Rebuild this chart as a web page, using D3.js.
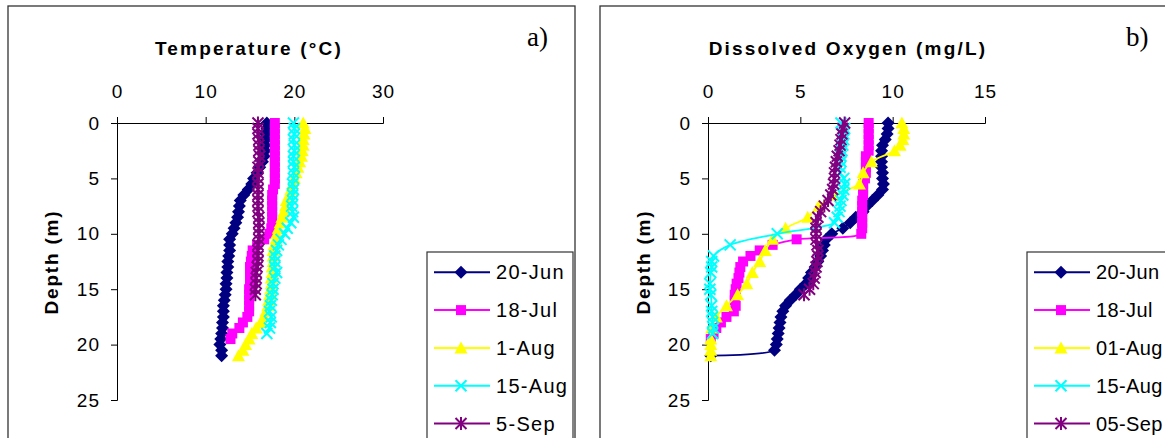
<!DOCTYPE html>
<html>
<head>
<meta charset="utf-8">
<script src="https://cdn.jsdelivr.net/npm/d3@7"></script>
<style>
  html, body { margin: 0; padding: 0; background: #fff; }
  svg { display: block; }
  text { font-family: "Liberation Sans", Arial, sans-serif; }
</style>
</head>
<body>
<div class="chart"></div>
<script>
// depth of each reading (m)
const depths = [0, 0.5, 1, 1.5, 2, 2.5, 3, 3.5, 4, 4.5, 5, 5.5, 6, 6.5, 7, 7.5, 8, 8.5, 9, 9.5,
  10, 10.5, 11, 11.5, 12, 12.5, 13, 13.5, 14, 14.5, 15, 15.5, 16, 16.5, 17, 17.5, 18, 18.5, 19, 19.5,
  20, 20.5, 21];

// a) temperature (°C)
const tempJun20 = [16.9, 16.9, 16.8, 16.8, 16.7, 16.7, 16.6, 16.4, 16.1, 15.8,
  15.4, 15.2, 14.8, 14.3, 13.9, 13.8, 13.7, 13.6, 13.4, 13.2,
  13.0, 12.7, 12.7, 12.7, 12.6, 12.5, 12.5, 12.4, 12.4, 12.3,
  12.3, 12.2, 12.1, 12.0, 12.0, 12.0, 11.9, 11.9, 11.8, 11.7,
  11.6, 11.8, 11.8];
const tempJul18 = [17.8, 17.8, 17.8, 17.8, 17.8, 17.8, 17.8, 17.8, 17.8, 17.8,
  17.8, 17.8, 17.6, 17.5, 17.5, 17.5, 17.5, 17.5, 17.5, 17.4,
  17.2, 16.6, 15.8, 15.3, 15.2, 15.1, 15.0, 15.0, 15.0, 15.0,
  14.9, 14.9, 14.9, 14.9, 14.9, 14.7, 14.2, 13.8, 13.0, 12.8,
  null, null, null];
const tempAug1 = [21.0, 21.2, 21.1, 21.0, 21.0, 20.9, 20.8, 20.6, 20.4, 20.2,
  20.0, 19.8, 19.6, 19.4, 19.1, 19.0, 18.8, 18.6, 18.4, 18.2,
  18.0, 17.9, 17.7, 17.6, 17.6, 17.6, 17.5, 17.5, 17.4, 17.4,
  17.3, 17.2, 17.1, 17.0, 16.8, 16.6, 16.2, 15.7, 15.2, 14.9,
  14.5, 14.2, 13.7];
const tempAug15 = [19.9, 20.0, 20.0, 19.9, 20.0, 20.0, 19.9, 19.9, 20.0, 19.9,
  19.9, 19.8, 19.9, 19.8, 19.8, 19.7, 19.8, 19.9, 19.6, 19.2,
  18.9, 18.5, 18.2, 18.0, 17.8, 17.8, 17.8, 18.0, 17.8, 17.6,
  17.6, 17.5, 17.4, 17.3, 17.2, 17.4, 17.3, 17.2, 16.9, null,
  null, null, null];
const tempSep5 = [15.9, 15.9, 15.9, 16.0, 16.0, 16.0, 16.1, 16.0, 15.9, 15.9,
  15.9, 15.9, 15.9, 15.9, 15.9, 15.9, 15.9, 16.0, 16.0, 16.0,
  16.0, 16.0, 15.9, 15.9, 15.9, 15.9, 15.8, 15.7, 15.7, 15.7,
  15.6, 15.6, null, null, null, null, null, null, null, null,
  null, null, null];

// b) dissolved oxygen (mg/L)
const oxyJun20 = [9.75, 9.75, 9.7, 9.6, 9.45, 9.4, 9.4, 9.4, 9.4, 9.45,
  9.45, 9.5, 9.45, 9.2, 8.9, 8.6, 8.4, 8.0, 7.7, 7.3,
  6.7, 6.4, 6.3, 6.2, 6.1, 5.95, 5.8, 5.6, 5.45, 5.3,
  5.0, 4.75, 4.45, 4.2, 4.05, 3.95, 3.9, 3.85, 3.8, 3.75,
  3.7, 3.6, 0.15];
const oxyJul18 = [8.7, 8.7, 8.7, 8.7, 8.7, 8.7, 8.55, 8.55, 8.55, 8.55,
  8.5, 8.4, 8.4, 8.4, 8.35, 8.35, 8.35, 8.35, 8.35, 8.35,
  8.3, 4.8, 3.5, 2.8, 2.3, 1.9, 1.75, 1.7, 1.65, 1.55,
  1.5, 1.45, 1.45, 1.5, 1.4, 1.0, 0.7, 0.45, 0.3, 0.15,
  null, null, null];
const oxyAug1 = [10.5, 10.6, 10.6, 10.55, 10.4, 10.1, null, 8.85, null, 8.4,
  null, 8.2, null, 6.8, null, 6.0, null, 5.4, null, 4.2,
  null, 3.5, null, 3.1, null, 2.8, null, 2.4, null, 2.1,
  null, 1.6, null, 1.0, null, 0.45, null, 0.2, null, 0.15,
  0.15, 0.15, 0.15];
const oxyAug15 = [7.2, 7.4, 7.35, 7.35, 7.3, 7.25, 7.2, 7.2, 7.15, 7.15,
  7.35, 7.4, 7.35, 7.3, 7.2, 7.15, 7.1, 7.0, 6.85, null,
  3.75, null, 1.2, null, 0.3, 0.2, 0.2, 0.15, null, 0.1,
  0.1, 0.15, null, 0.2, 0.2, 0.25, 0.25, 0.3, 0.25, null,
  null, null, null];
const oxySep5 = [7.4, 7.3, 7.25, 7.2, 7.15, 7.1, 7.0, 6.95, 6.9, 6.85,
  6.85, 6.8, 6.75, 6.65, 6.5, 6.3, 6.1, 5.95, 5.85, 5.85,
  5.85, 5.85, 5.9, 5.95, 5.95, 5.9, 5.85, 5.8, 5.75, 5.7,
  5.5, 5.2, null, null, null, null, null, null, null, null,
  null, null, null];

const namesA = ['20-Jun', '18-Jul', '1-Aug', '15-Aug', '5-Sep'];
const namesB = ['20-Jun', '18-Jul', '01-Aug', '15-Aug', '05-Sep'];
const tempTicks = [0, 10, 20, 30];
const oxyTicks = [0, 5, 10, 15];
const depthTicks = [0, 5, 10, 15, 20, 25];

const colors = ['#000080', '#ff00ff', '#ffff00', '#00ffff', '#800080'];
const markers = ['diamond', 'square', 'triangle', 'cross', 'star'];

const panels = [
  { tag: 'a)', title: 'Temperature (°C)', xMax: 30, ticks: tempTicks, series: [tempJun20, tempJul18, tempAug1, tempAug15, tempSep5], names: namesA,
    frame: { x: 8, w: 567 }, x0: 117, x1: 383, titleX: 249, yLabelX: 51, tagX: 527, legend: { x: 427, w: 146, spacing: 1.3 } },
  { tag: 'b)', title: 'Dissolved Oxygen (mg/L)', xMax: 15, ticks: oxyTicks, series: [oxyJun20, oxyJul18, oxyAug1, oxyAug15, oxySep5], names: namesB,
    frame: { x: 600, w: 580 }, x0: 708, x1: 985, titleX: 848, yLabelX: 643, tagX: 1126, legend: { x: 1027, w: 170, spacing: 0.4 } }
];

// marker shapes, Excel style
function markerPath(type) {
  switch (type) {
    case 'diamond': return 'M0,-6.5L6.5,0L0,6.5L-6.5,0Z';
    case 'square': return 'M-5,-5H5V5H-5Z';
    case 'triangle': return 'M0,-6.5L6.5,5.5L-6.5,5.5Z';
    case 'cross': return 'M-5.5,-5.5L5.5,5.5M-5.5,5.5L5.5,-5.5';
    case 'star': return 'M-5.5,-5.5L5.5,5.5M-5.5,5.5L5.5,-5.5M0,-6.5V6.5';
  }
}

function drawMarker(g, type, color) {
  const stroked = type === 'cross' || type === 'star';
  return g.append('path')
    .attr('d', markerPath(type))
    .attr('fill', stroked ? 'none' : color)
    .attr('stroke', stroked ? color : 'none')
    .attr('stroke-width', 2);
}

const svg = d3.select('.chart').append('svg')
  .attr('width', 1165)
  .attr('height', 438);

const yScale = d3.scaleLinear().domain([0, 25]).range([123, 400]);

panels.forEach(function (p) {
  const g = svg.append('g');
  // panel frame
  g.append('rect')
    .attr('x', p.frame.x).attr('y', 6)
    .attr('width', p.frame.w).attr('height', 460)
    .attr('fill', 'none').attr('stroke', '#333').attr('stroke-width', 1.3);

  const xScale = d3.scaleLinear().domain([0, p.xMax]).range([p.x0, p.x1]);

  // axes
  const xAxis = d3.axisTop(xScale).tickValues(p.ticks).tickSize(6).tickPadding(19);
  const yAxis = d3.axisLeft(yScale).tickValues(depthTicks).tickSize(6).tickPadding(11);
  [g.append('g').attr('transform', 'translate(0,123)').call(xAxis),
   g.append('g').attr('transform', `translate(${p.x0},0)`).call(yAxis)].forEach(function (ax) {
    ax.attr('font-family', null).attr('font-size', null);
    ax.selectAll('path, line').attr('stroke', '#000').attr('stroke-width', 1);
    ax.selectAll('text').attr('fill', '#000').style('font-size', '19px').style('letter-spacing', '1px');
  });

  // titles
  g.append('text')
    .attr('x', p.titleX).attr('y', 55)
    .attr('text-anchor', 'middle')
    .style('font-size', '19px').style('font-weight', 'bold').style('letter-spacing', '2.2px')
    .text(p.title);
  g.append('text')
    .attr('transform', `translate(${p.yLabelX},262) rotate(-90)`)
    .attr('text-anchor', 'middle')
    .attr('dy', '0.35em')
    .style('font-size', '19px').style('font-weight', 'bold').style('letter-spacing', '1.8px')
    .text('Depth (m)');
  g.append('text')
    .attr('x', p.tagX).attr('y', 46)
    .style('font-family', '"Liberation Serif", "Times New Roman", serif')
    .style('font-size', '27px')
    .text(p.tag);

  // series: smoothed line then markers
  const line = d3.line()
    .x(d => xScale(d.v))
    .y(d => yScale(d.d))
    .curve(d3.curveCatmullRom.alpha(0.5));

  p.series.forEach(function (vals, i) {
    const pts = depths.map((d, j) => ({ d: d, v: vals[j] })).filter(d => d.v !== null);
    const sg = g.append('g').attr('class', 'series');
    sg.append('path')
      .datum(pts)
      .attr('d', line)
      .attr('fill', 'none')
      .attr('stroke', colors[i])
      .attr('stroke-width', 1.8);
    sg.selectAll('g.pt')
      .data(pts)
      .enter()
      .append('g')
      .attr('class', 'pt')
      .attr('transform', d => `translate(${xScale(d.v)},${yScale(d.d)})`)
      .each(function () { drawMarker(d3.select(this), markers[i], colors[i]); });
  });

  // legend
  const lg = g.append('g');
  lg.append('rect')
    .attr('x', p.legend.x).attr('y', 252)
    .attr('width', p.legend.w).attr('height', 220)
    .attr('fill', '#fff').attr('stroke', '#333').attr('stroke-width', 1.2);
  p.names.forEach(function (name, i) {
    const ry = 272.3 + i * 37.8;
    const lx = p.legend.x + 7;
    lg.append('line')
      .attr('x1', lx).attr('x2', lx + 56)
      .attr('y1', ry).attr('y2', ry)
      .attr('stroke', colors[i]).attr('stroke-width', 2);
    drawMarker(lg.append('g').attr('transform', `translate(${lx + 27},${ry})`), markers[i], colors[i]);
    lg.append('text')
      .attr('x', lx + 62).attr('y', ry + 7)
      .style('font-size', '20px').style('letter-spacing', p.legend.spacing + 'px')
      .text(name);
  });
});
</script>
</body>
</html>
